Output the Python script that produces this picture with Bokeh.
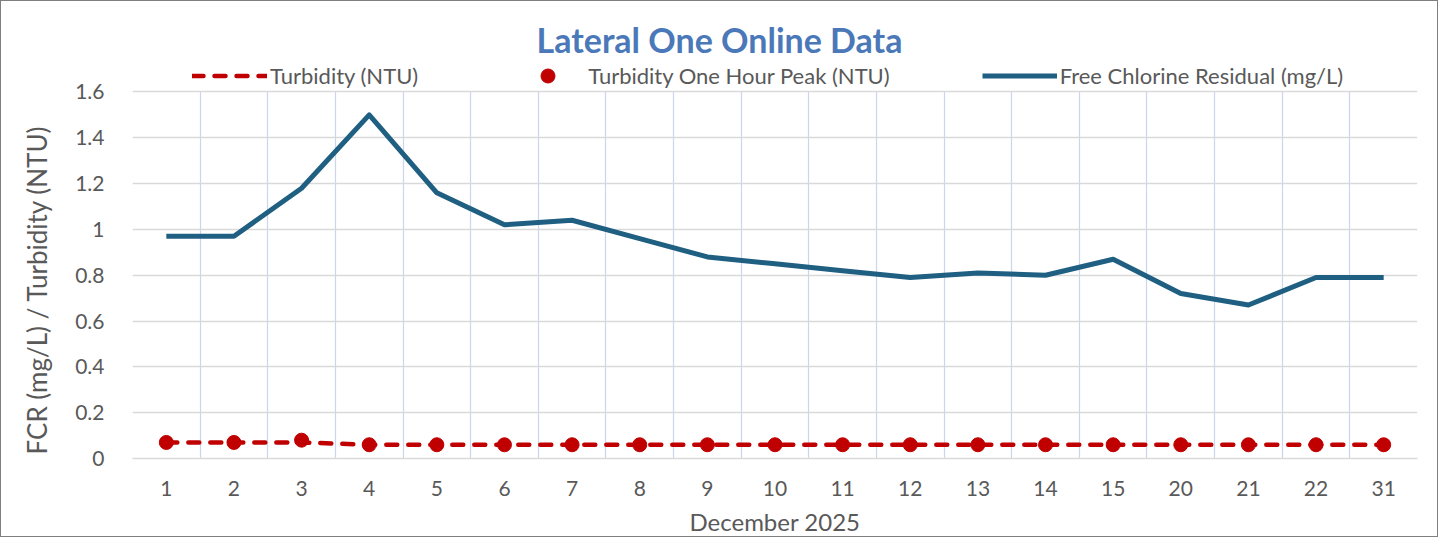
from bokeh.plotting import figure
from bokeh.models import (FactorRange, Range1d, FixedTicker, Legend, LegendItem,
                          Label, Title, ColumnDataSource)
from bokeh.embed import file_html
from bokeh.resources import INLINE

days = ["1", "2", "3", "4", "5", "6", "7", "8", "9", "10", "11", "12", "13",
        "14", "15", "20", "21", "22", "31"]
fcr = [0.97, 0.97, 1.18, 1.50, 1.16, 1.02, 1.04, 0.96, 0.88, 0.85, 0.82, 0.79,
       0.81, 0.80, 0.87, 0.72, 0.67, 0.79, 0.79]
turbidity = [0.07, 0.07, 0.07, 0.06, 0.06, 0.06, 0.06, 0.06, 0.06, 0.06, 0.06,
             0.06, 0.06, 0.06, 0.06, 0.06, 0.06, 0.06, 0.06]
turbidity_peak = [0.07, 0.07, 0.08, 0.06, 0.06, 0.06, 0.06, 0.06, 0.06, 0.06,
                  0.06, 0.06, 0.06, 0.06, 0.06, 0.06, 0.06, 0.06, 0.06]
y_ticks = [0, 0.2, 0.4, 0.6, 0.8, 1, 1.2, 1.4, 1.6]

FONT = "Lato"
TXT = "#595959"
RED = "#c00000"
BLUE = "#1f5f82"
Y_MAX = 1.6      # top of the value axis
Y_VIEW = 1.96    # extra head-room inside the frame for title and legend

src = ColumnDataSource(dict(day=days, fcr=fcr, turb=turbidity, peak=turbidity_peak))

p = figure(width=1438, height=537, x_range=FactorRange(*days), y_range=Range1d(0, Y_VIEW),
           output_backend="svg", toolbar_location=None,
           min_border_left=130, min_border_right=22, min_border_top=8, min_border_bottom=78,
           styles={"border": "1.5px solid #7f7f7f"})
p.outline_line_color = None
p.background_fill_color = "white"
p.border_fill_color = "white"

# grids
p.ygrid.ticker = FixedTicker(ticks=y_ticks)
p.ygrid.grid_line_color = "#d9d9d9"
p.ygrid.grid_line_width = 1.5
xg = p.xgrid[0]
xg.grid_line_color = "#c9d6ee"
xg.grid_line_width = 1.2
if "cross_bounds" in xg.properties():
    xg.ticker = FixedTicker(ticks=list(range(1, len(days))))
    xg.cross_bounds = (0, Y_MAX)
else:
    xg.grid_line_color = None
    p.segment(x0=[(d, 0.5) for d in days[:-1]], x1=[(d, 0.5) for d in days[:-1]],
              y0=0, y1=Y_MAX, line_color="#c9d6ee", line_width=1.2, level="underlay")

# axes
p.yaxis.ticker = FixedTicker(ticks=y_ticks)
p.yaxis.major_label_overrides = {0: "0", 1: "1"}
p.yaxis.axis_line_color = None
p.yaxis.major_tick_line_color = None
p.yaxis.minor_tick_line_color = None
p.yaxis.major_label_standoff = 22
p.xaxis.axis_line_color = "#d9d9d9"
p.xaxis.axis_line_width = 1.5
p.xaxis.major_tick_line_color = None
p.xaxis.minor_tick_line_color = None
p.xaxis.major_label_standoff = 16
p.xaxis.axis_label = "December 2025"
p.xaxis.axis_label_standoff = 8
for ax in (p.xaxis[0], p.yaxis[0]):
    ax.major_label_text_font = FONT
    ax.major_label_text_font_size = "21px"
    ax.major_label_text_color = TXT
    ax.axis_label_text_font = FONT
    ax.axis_label_text_font_size = "24px"
    ax.axis_label_text_font_style = "normal"
    ax.axis_label_text_color = TXT

# value-axis title, placed along the 0..1.6 part of the frame
ytitle = Title(text="FCR (mg/L) / Turbidity (NTU)", align="left", offset=4,
               vertical_align="middle", standoff=37, text_font=FONT,
               text_font_size="26px", text_font_style="normal", text_color=TXT)
p.add_layout(ytitle, "left")

# series
r_turb = p.line("day", "turb", source=src, line_color=RED, line_width=4.5,
                line_dash="11 11", line_cap="round")
r_peak = p.scatter("day", "peak", source=src, size=14, fill_color=RED, line_color=RED)
r_fcr = p.line("day", "fcr", source=src, line_color=BLUE, line_width=5, line_join="round")

legend = Legend(items=[LegendItem(label="Turbidity (NTU)", renderers=[r_turb]),
                       LegendItem(label="Turbidity One Hour Peak (NTU)", renderers=[r_peak]),
                       LegendItem(label="Free Chlorine Residual (mg/L)", renderers=[r_fcr])],
                location=(60, 365), orientation="horizontal", padding=0, margin=0,
                spacing=92, glyph_width=75, glyph_height=35, label_height=35,
                label_standoff=3, border_line_color=None, background_fill_alpha=0,
                label_text_font=FONT, label_text_font_size="22px", label_text_color=TXT)
p.add_layout(legend, "center")

title = Label(x=587, y=419, x_units="screen", y_units="screen",
              text="Lateral One Online Data", text_align="center",
              text_baseline="middle", text_font=FONT, text_font_size="34px",
              text_font_style="bold", text_color="#4a78b8")
p.add_layout(title)

open("out.html", "w").write(file_html(p, INLINE))
